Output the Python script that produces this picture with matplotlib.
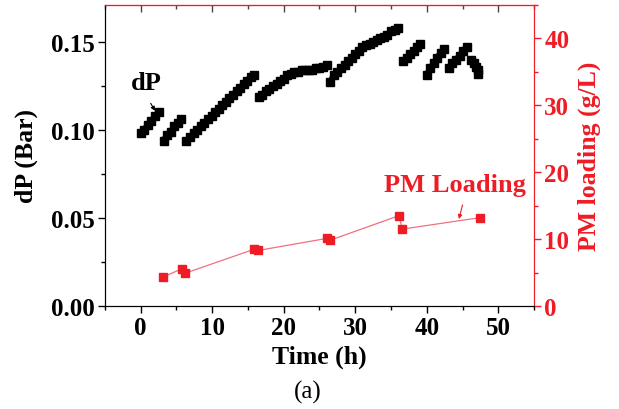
import matplotlib
matplotlib.use('Agg')
import matplotlib.pyplot as plt
from matplotlib.ticker import MultipleLocator, FormatStrFormatter

plt.rcParams['font.family'] = ['Liberation Serif', 'DejaVu Serif']

# dP segments (time in h, dP in bar)
t_seg1 = [0.0, 0.5, 1.0, 1.5, 2.0, 2.5]
dp_seg1 = [0.098, 0.100, 0.103, 0.105, 0.108, 0.110]
t_seg2 = [3.2, 3.7, 4.2, 4.7, 5.2, 5.7]
dp_seg2 = [0.094, 0.097, 0.099, 0.102, 0.104, 0.106]
t_seg3 = [6.4, 6.9, 7.4, 7.9, 8.4, 8.9, 9.4, 9.9, 10.4, 10.9,
          11.4, 11.9, 12.4, 12.9, 13.4, 13.9, 14.4, 14.9, 15.4, 15.9]
dp_seg3 = [0.094, 0.096, 0.098, 0.100, 0.102, 0.104, 0.106, 0.108, 0.110, 0.112,
           0.114, 0.116, 0.118, 0.120, 0.122, 0.124, 0.126, 0.128, 0.130, 0.131]
t_seg4 = [16.5, 17.0, 17.5, 18.0, 18.5, 19.0, 19.5, 20.0, 20.5, 21.0,
          21.5, 22.0, 22.5, 23.0, 23.5, 24.0, 24.5, 25.0, 25.5, 26.0]
dp_seg4 = [0.119, 0.120, 0.122, 0.123, 0.125, 0.126, 0.128, 0.129, 0.131, 0.132,
           0.133, 0.133, 0.134, 0.134, 0.134, 0.134, 0.135, 0.135, 0.136, 0.137]
t_seg5 = [26.5, 27.0, 27.5, 28.0, 28.5, 29.0, 29.5, 30.0, 30.5, 31.0,
          31.5, 32.0, 32.5, 33.0, 33.5, 34.0, 34.5, 35.0, 35.5, 36.0]
dp_seg5 = [0.127, 0.131, 0.133, 0.135, 0.137, 0.139, 0.141, 0.143, 0.145, 0.147,
           0.148, 0.149, 0.150, 0.151, 0.152, 0.153, 0.154, 0.156, 0.157, 0.158]
t_seg6 = [36.7, 37.2, 37.7, 38.2, 38.7, 39.1]
dp_seg6 = [0.139, 0.141, 0.143, 0.145, 0.147, 0.149]
t_seg7 = [40.0, 40.5, 41.0, 41.5, 42.0, 42.4]
dp_seg7 = [0.131, 0.135, 0.138, 0.141, 0.144, 0.146]
t_seg8 = [43.1, 43.6, 44.1, 44.6, 45.1, 45.6]
dp_seg8 = [0.135, 0.138, 0.140, 0.142, 0.145, 0.147]
t_seg9 = [46.2, 46.6, 46.9, 47.1, 47.1]
dp_seg9 = [0.140, 0.138, 0.136, 0.134, 0.132]

dp_segments = [(t_seg1, dp_seg1), (t_seg2, dp_seg2), (t_seg3, dp_seg3),
               (t_seg4, dp_seg4), (t_seg5, dp_seg5), (t_seg6, dp_seg6),
               (t_seg7, dp_seg7), (t_seg8, dp_seg8), (t_seg9, dp_seg9)]

# PM loading (g/L)
t_pm = [3.1, 5.8, 6.2, 15.9, 16.4, 26.0, 26.4, 36.1, 36.6, 47.4]
pm_load = [4.3, 5.6, 4.9, 8.5, 8.3, 10.1, 9.8, 13.5, 11.5, 13.2]

RED = '#ee1c25'

fig = plt.figure(figsize=(6.19, 4.10), dpi=100)
ax = fig.add_axes([0.1696, 0.2512, 0.6931, 0.7342])
ax2 = ax.twinx()

# dense logged points form a thick band
for t, dp in dp_segments:
    ax.plot(t, dp, '-', lw=4.5, color='black', solid_capstyle='butt')
    ax.plot(t, dp, ls='none', marker='s', ms=5.3, color='black', mec='black')

ax2.plot(t_pm, pm_load, '-', color='#f07080', lw=0.9)
ax2.plot(t_pm, pm_load, ls='none', marker='s', ms=5.5, color=RED, mec=RED)

ax.set_xlim(-5, 55)
ax.set_ylim(0, 0.171)
ax2.set_ylim(0, 45)

ax.xaxis.set_major_locator(MultipleLocator(10))
ax.xaxis.set_minor_locator(MultipleLocator(5))
ax.yaxis.set_major_locator(MultipleLocator(0.05))
ax.yaxis.set_minor_locator(MultipleLocator(0.025))
ax.yaxis.set_major_formatter(FormatStrFormatter('%.2f'))
ax2.yaxis.set_major_locator(MultipleLocator(10))
ax2.yaxis.set_minor_locator(MultipleLocator(5))

ax.tick_params(axis='both', which='major', direction='out', length=5, width=1,
               labelsize=18, pad=2.5)
ax.tick_params(axis='both', which='minor', direction='out', length=3, width=1)
ax2.tick_params(axis='y', which='major', direction='out', length=5, width=1,
                labelsize=18, pad=2.5, colors=RED)
ax2.tick_params(axis='y', which='minor', direction='out', length=3, width=1, colors=RED)
for lab in ax.get_xticklabels() + ax.get_yticklabels() + ax2.get_yticklabels():
    lab.set_fontweight('bold')

top = ax.secondary_xaxis('top')
top.xaxis.set_major_locator(MultipleLocator(10))
top.xaxis.set_minor_locator(MultipleLocator(5))
top.tick_params(which='major', direction='in', length=5, width=1, labeltop=False, colors='#444444')
top.tick_params(which='minor', direction='in', length=3, width=1, colors='#444444')
top.spines['top'].set_color(RED)

for a in (ax, ax2):
    a.spines['right'].set_color(RED)
    a.spines['top'].set_color(RED)
    a.spines['left'].set_color('black')
    a.spines['bottom'].set_color('black')

ax.set_xlabel('Time (h)', fontsize=18.5, fontweight='bold', labelpad=4)
ax.set_ylabel('dP (Bar)', fontsize=18.5, fontweight='bold', labelpad=9)
ax2.set_ylabel('PM loading (g/L)', fontsize=18.5, fontweight='bold', color=RED, labelpad=6)

ax.text(0.74, 0.127, 'dP', fontsize=19, fontweight='bold', ha='center', va='center')
ax.annotate('', xy=(2.2, 0.1095), xytext=(1.2, 0.1165),
            arrowprops=dict(arrowstyle='-|>', lw=0.8, color='black', mutation_scale=6))

ax2.text(44.0, 18.1, 'PM Loading', fontsize=19, fontweight='bold', color=RED,
         ha='center', va='center')
ax2.annotate('', xy=(44.4, 12.6), xytext=(45.1, 15.5),
             arrowprops=dict(arrowstyle='-|>', lw=0.8, color=RED, mutation_scale=6))

fig.text(0.4976, 0.044, '(a)', fontsize=18, ha='center', va='center')

fig.savefig('out.png', dpi=100)
